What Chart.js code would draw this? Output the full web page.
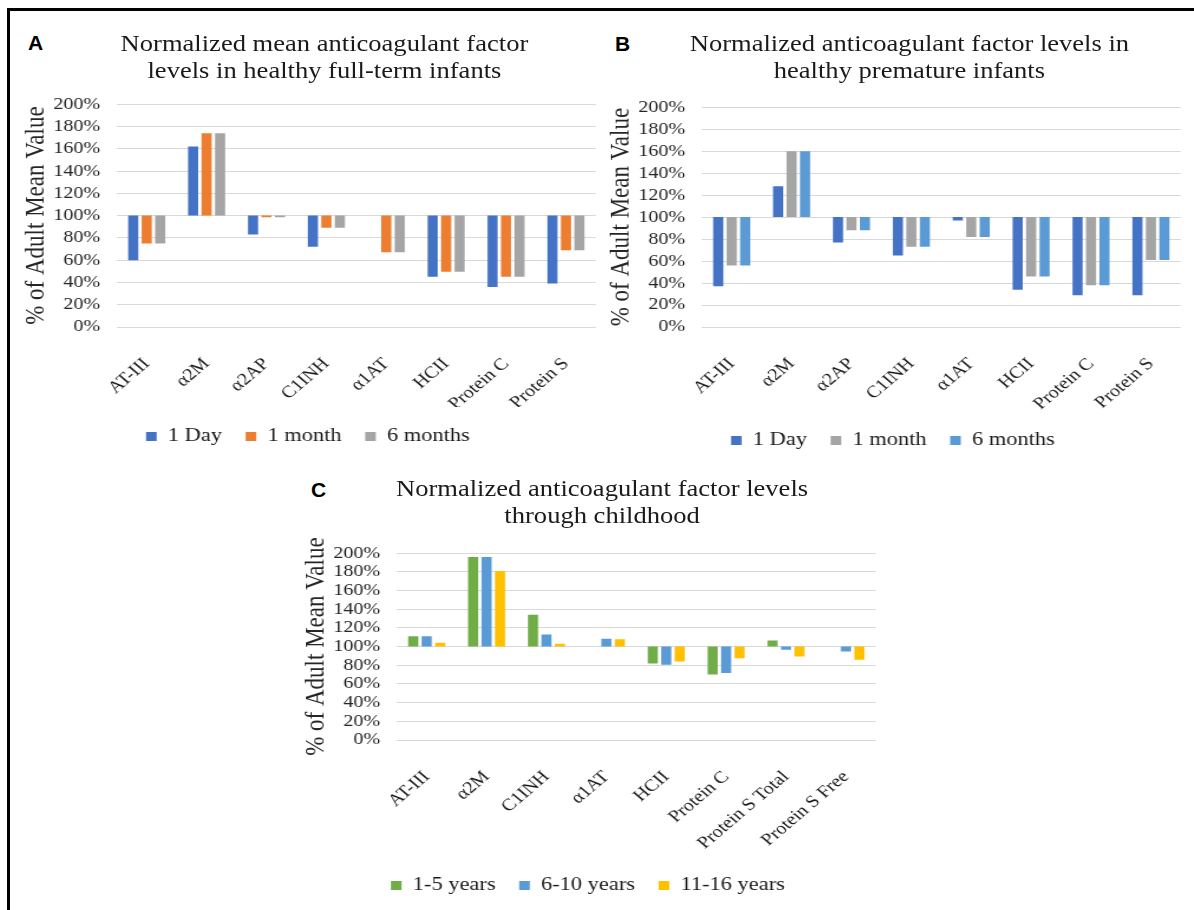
<!DOCTYPE html>
<html>
<head>
<meta charset="utf-8">
<script src="https://cdn.jsdelivr.net/npm/chart.js@4.4.1/dist/chart.umd.min.js"></script>
<style>
  body { margin:0; background:#fff; width:1194px; height:910px; overflow:hidden; position:relative; font-family:'Liberation Serif', serif; color:#1a1a1a; }
  .frame { position:absolute; left:7px; top:8px; width:1300px; height:1000px; border-top:3px solid #000; border-left:3px solid #000; }
  .panel { position:absolute; top:0; height:910px; width:520px; transform:scaleX(1.18); transform-origin:0 0; }
  .panel canvas { position:absolute; left:0; }
  .ttl { position:absolute; left:0; text-align:center; font-size:22.5px; line-height:27px; white-space:nowrap; }
  .tag { position:absolute; font-family:'Liberation Sans', sans-serif; font-weight:bold; font-size:21px; line-height:21px; color:#000; }
</style>
</head>
<body>
<div class="frame"></div>

<div class="tag" style="left:28px;top:32px">A</div>
<div class="tag" style="left:615px;top:33px">B</div>
<div class="tag" style="left:311px;top:479px">C</div>

<div class="panel" style="left:20.2px">
  <div class="ttl" style="top:29.5px;width:516px">Normalized mean anticoagulant factor<br>levels in healthy full-term infants</div>
  <canvas id="chartA" width="500" height="377" style="top:80px"></canvas>
</div>
<div class="panel" style="left:605.2px">
  <div class="ttl" style="top:30px;width:516px">Normalized anticoagulant factor levels in<br>healthy premature infants</div>
  <canvas id="chartB" width="500" height="378" style="top:83px"></canvas>
</div>
<div class="panel" style="left:300.2px">
  <div class="ttl" style="top:475px;width:512px">Normalized anticoagulant factor levels<br>through childhood</div>
  <canvas id="chartC" width="500" height="377" style="top:529px"></canvas>
</div>

<script>
// painel A - recem-nascidos a termo
const catsA = ['AT-III', 'α2M', 'α2AP', 'C1INH', 'α1AT', 'HCII', 'Protein C', 'Protein S'];
const dayA = [60, 162, 83, 72, null, 45, 36, 39];
const monthA = [75, 174, 98.6, 89, 67, 49.5, 45, 69];
const sixMonthsA = [75, 174, 98.6, 89, 67, 49.5, 45, 69];

// painel B - prematuros
const catsB = ['AT-III', 'α2M', 'α2AP', 'C1INH', 'α1AT', 'HCII', 'Protein C', 'Protein S'];
const dayB = [37, 128, 77, 65, 97, 34, 29, 29];
const monthB = [56, 160, 88, 73, 82, 46, 38, 61];
const sixMonthsB = [56, 160, 88, 73, 82, 46, 38, 61];

// painel C - infancia
const catsC = ['AT-III', 'α2M', 'C1INH', 'α1AT', 'HCII', 'Protein C', 'Protein S Total', 'Protein S Free'];
const years1to5 = [111, 196, 134, null, 82, 70, 106.5, null];
const years6to10 = [111, 196, 113, 108.5, 80.5, 71.7, 96.5, 94.7];
const years11to16 = [104, 181, 103, 108, 84, 87.6, 89.4, 86];

const yTicks = [0, 20, 40, 60, 80, 100, 120, 140, 160, 180, 200];

const SERIF = "'Liberation Serif', serif";
Chart.defaults.font.family = SERIF;
Chart.defaults.color = '#262626';

// barras flutuantes a partir de 100%
const fromBase = arr => arr.map(v => v == null ? null : [100, v]);

const legendFix = {
  id: 'legendFix',
  beforeInit(chart) {
    const fit = chart.legend.fit;
    chart.legend.fit = function () { fit.call(this); this.height = 50; };
  }
};

function makeChart(id, labels, series, xHeight) {
  return new Chart(document.getElementById(id), {
    type: 'bar',
    data: {
      labels: labels,
      datasets: series.map(s => ({
        label: s.label,
        data: fromBase(s.data),
        backgroundColor: s.color,
        borderWidth: 0,
        barPercentage: 0.75,
        categoryPercentage: 0.675
      }))
    },
    options: {
      responsive: false,
      animation: false,
      layout: { padding: { top: 3, right: 12, left: 0, bottom: 0 } },
      plugins: {
        tooltip: { enabled: false },
        legend: {
          position: 'bottom',
          labels: { boxWidth: 9, boxHeight: 9, padding: 20, color: '#1a1a1a', font: { family: SERIF, size: 19 } }
        }
      },
      scales: {
        x: {
          grid: { display: false },
          border: { display: false },
          ticks: { autoSkip: false, maxRotation: 45, minRotation: 45, padding: 19, color: '#1a1a1a', font: { family: SERIF, size: 17 } },
          afterFit: s => { s.height = xHeight; }
        },
        y: {
          min: 0,
          max: 200,
          afterBuildTicks: s => { s.ticks = yTicks.map(v => ({ value: v })); },
          grid: { color: '#d9d9d9', drawTicks: false },
          border: { display: false },
          ticks: { autoSkip: false, padding: 14, color: '#262626', font: { family: SERIF, size: 17 }, callback: v => v + '%' },
          title: { display: true, text: '% of Adult Mean Value', color: '#262626', font: { family: SERIF, size: 23 }, padding: 0 },
          afterFit: s => { s.width = 82; }
        }
      }
    },
    plugins: [legendFix]
  });
}

makeChart('chartA', catsA, [
  { label: '1 Day', data: dayA, color: '#4472C4' },
  { label: '1 month', data: monthA, color: '#ED7D31' },
  { label: '6 months', data: sixMonthsA, color: '#A5A5A5' }
], 80);

makeChart('chartB', catsB, [
  { label: '1 Day', data: dayB, color: '#4472C4' },
  { label: '1 month', data: monthB, color: '#A5A5A5' },
  { label: '6 months', data: sixMonthsB, color: '#5B9BD5' }
], 84);

makeChart('chartC', catsC, [
  { label: '1-5 years', data: years1to5, color: '#70AD47' },
  { label: '6-10 years', data: years6to10, color: '#5B9BD5' },
  { label: '11-16 years', data: years11to16, color: '#FFC000' }
], 116);
</script>
</body>
</html>
